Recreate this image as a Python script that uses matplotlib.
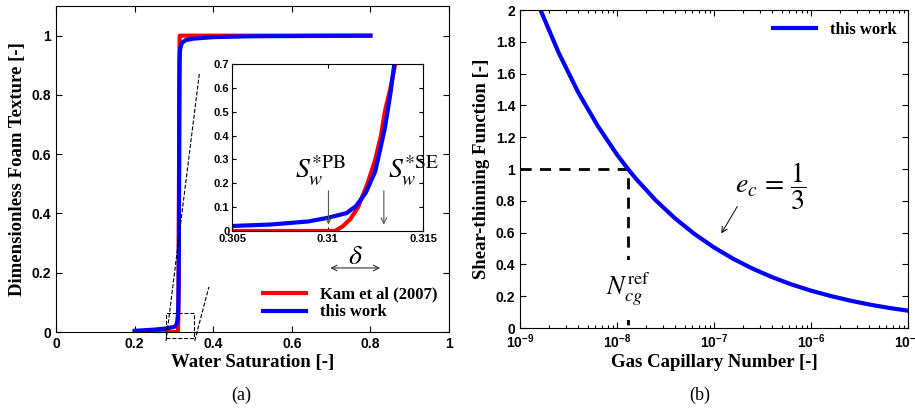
import math
import matplotlib
matplotlib.use("Agg")
import matplotlib.pyplot as plt
from matplotlib.ticker import FuncFormatter, LogLocator, NullFormatter

# fonts: Arial-like bold ticks, Times-like bold labels
plt.rcParams['font.family'] = ['Liberation Sans', 'DejaVu Sans']
plt.rcParams['mathtext.fontset'] = 'custom'
plt.rcParams['mathtext.rm'] = 'Liberation Sans:bold'
plt.rcParams['mathtext.bf'] = 'Liberation Sans:bold'
plt.rcParams['mathtext.it'] = 'Liberation Sans:bold:italic'
plt.rcParams['xtick.direction'] = 'in'
plt.rcParams['ytick.direction'] = 'in'

# --- (a) dimensionless foam texture vs water saturation ---
sw_kam = [0.2, 0.3104, 0.3108, 0.3112, 0.3116, 0.3121, 0.3125, 0.3128,
          0.3130, 0.3133, 0.31354, 0.3138, 0.3141, 0.3144, 0.3147, 0.8]
nd_kam = [0.0, 0.0, 0.02, 0.05, 0.1, 0.2, 0.3, 0.4,
          0.5, 0.6, 0.7, 0.8, 0.9, 0.97, 1.0, 1.0]

sw_this = [0.2, 0.25, 0.28, 0.3, 0.305, 0.307, 0.309, 0.310, 0.311, 0.3115,
           0.312, 0.3125, 0.313, 0.3133, 0.3135, 0.314, 0.3145, 0.315,
           0.316, 0.318, 0.32, 0.33, 0.35, 0.4, 0.5, 0.8]
nd_this = [0.004, 0.008, 0.012, 0.017, 0.021, 0.027, 0.040, 0.055, 0.075, 0.105,
           0.16, 0.25, 0.43, 0.58, 0.70, 0.85, 0.91, 0.94,
           0.955, 0.965, 0.975, 0.985, 0.99, 0.995, 0.998, 1.0]

# --- (b) shear-thinning function vs gas capillary number ---
n_cg = [1.585e-9, 2.512e-9, 3.981e-9, 6.310e-9, 1e-8, 1.3e-8, 1.585e-8,
        2.512e-8, 3.981e-8, 6.310e-8, 1e-7, 1.585e-7, 2.512e-7, 3.981e-7,
        6.310e-7, 1e-6, 1.585e-6, 2.512e-6, 3.981e-6, 6.310e-6, 1e-5]
f_st = [2.017, 1.730, 1.483, 1.273, 1.091, 1.0, 0.936,
        0.803, 0.689, 0.591, 0.507, 0.435, 0.373, 0.320,
        0.274, 0.235, 0.202, 0.173, 0.148, 0.127, 0.109]
n_ref = 1.3e-8

serif_bold = dict(family='Liberation Serif', weight='bold')
fmt_g = FuncFormatter(lambda v, p: '%g' % round(v, 4))

fig = plt.figure(figsize=(9.15, 4.15), dpi=100)

# left main axes
ax1 = fig.add_axes([0.0612, 0.2, 0.4295, 0.7855])
ax1.plot(sw_kam, nd_kam, color='#ff0000', lw=3, label='Kam et al (2007)')
ax1.plot(sw_this, nd_this, color='#0000ff', lw=3, label='this work')
ax1.set_xlim(0, 1)
ax1.set_ylim(0, 1.1)
ax1.set_xticks([0, 0.2, 0.4, 0.6, 0.8, 1])
ax1.set_yticks([0, 0.2, 0.4, 0.6, 0.8, 1])
ax1.xaxis.set_major_formatter(fmt_g)
ax1.yaxis.set_major_formatter(fmt_g)
ax1.tick_params(top=True, right=True, labelsize=10, length=4, width=0.8)
for lab in ax1.get_xticklabels() + ax1.get_yticklabels():
    lab.set_fontweight('bold')
ax1.set_xlabel('Water Saturation [-]', fontsize=13.5, labelpad=2, **serif_bold)
ax1.set_ylabel('Dimensionless Foam Texture [-]', fontsize=13.5, labelpad=4, **serif_bold)
ax1.legend(loc='lower right', frameon=False, handlelength=2.6,
           prop=dict(family='Liberation Serif', weight='bold', size=12),
           borderaxespad=0.3, labelspacing=0.1)

# zoom box and connector lines
ax1.plot([0.28, 0.351, 0.351, 0.28, 0.28], [-0.02, -0.02, 0.064, 0.064, -0.02],
         ls='--', color='k', lw=0.8, clip_on=False)
ax1.plot([0.28, 0.365], [-0.03, 0.875], ls='--', color='k', lw=0.8, clip_on=False)
ax1.plot([0.353, 0.389], [-0.03, 0.152], ls='--', color='k', lw=0.8, clip_on=False)

# inset
axi = fig.add_axes([0.2536, 0.4434, 0.2087, 0.4024])
axi.plot(sw_kam, nd_kam, color='#ff0000', lw=3)
axi.plot(sw_this, nd_this, color='#0000ff', lw=3)
axi.set_xlim(0.305, 0.315)
axi.set_ylim(0, 0.7)
axi.set_xticks([0.305, 0.31, 0.315])
axi.set_yticks([0, 0.1, 0.2, 0.3, 0.4, 0.5, 0.6, 0.7])
axi.xaxis.set_major_formatter(fmt_g)
axi.yaxis.set_major_formatter(fmt_g)
axi.tick_params(top=True, right=True, labelsize=8, length=3, width=0.8, pad=2)
for lab in axi.get_xticklabels() + axi.get_yticklabels():
    lab.set_fontweight('bold')

arrow_g = dict(arrowstyle='->', color='#555555', lw=0.8)
axi.annotate('', xy=(0.31005, 0.015), xytext=(0.31005, 0.18), arrowprops=arrow_g)
axi.text(0.30962, 0.182, r'$S_w^{*\mathrm{PB}}$', ha='center', va='bottom',
         fontsize=20, math_fontfamily='stix', clip_on=False)
axi.annotate('', xy=(0.31295, 0.015), xytext=(0.31295, 0.18), arrowprops=arrow_g)
axi.text(0.31316, 0.182, r'$S_w^{*\mathrm{SE}}$', ha='left', va='bottom',
         fontsize=20, math_fontfamily='stix', clip_on=False)
axi.annotate('', xy=(0.3100, -0.155), xytext=(0.3129, -0.155),
             arrowprops=dict(arrowstyle='<->', color='#333333', lw=0.8),
             annotation_clip=False)
axi.text(0.31147, -0.11, r'$\delta$', ha='center', va='center', fontsize=20,
         math_fontfamily='stix', clip_on=False)

# right axes
ax2 = fig.add_axes([0.5683, 0.2096, 0.424, 0.766])
ax2.plot(n_cg, f_st, color='#0000ff', lw=3, label='this work')
ax2.plot([1e-9, n_ref, n_ref], [1.0, 1.0, 0.0], ls='--', color='k', lw=2,
         dashes=(4, 3), zorder=1)
ax2.set_xscale('log')
ax2.set_xlim(1e-9, 1e-5)
ax2.set_ylim(0, 2)
ax2.set_xticks([1e-9, 1e-8, 1e-7, 1e-6, 1e-5])
ax2.xaxis.set_major_formatter(FuncFormatter(lambda v, p: r'$10^{%d}$' % round(math.log10(v))))
ax2.xaxis.set_minor_locator(LogLocator(base=10, subs=range(2, 10), numticks=20))
ax2.xaxis.set_minor_formatter(NullFormatter())
ax2.set_yticks([0, 0.2, 0.4, 0.6, 0.8, 1, 1.2, 1.4, 1.6, 1.8, 2])
ax2.yaxis.set_major_formatter(fmt_g)
ax2.tick_params(which='both', top=True, right=True, labelsize=10, width=0.8)
ax2.tick_params(which='major', length=4)
ax2.tick_params(which='minor', length=2)
for lab in ax2.get_yticklabels():
    lab.set_fontweight('bold')
ax2.set_xlabel('Gas Capillary Number [-]', fontsize=13.5, labelpad=2, **serif_bold)
ax2.set_ylabel('Shear-thinning Function [-]', fontsize=13.5, labelpad=4, **serif_bold)
ax2.legend(loc='upper right', frameon=False, handlelength=2.6,
           prop=dict(family='Liberation Serif', weight='bold', size=12),
           borderaxespad=0.3)

ax2.text(n_ref, 0.24, r'$N_{cg}^{\mathrm{ref}}$', ha='center', va='center',
         fontsize=19, math_fontfamily='stix',
         bbox=dict(facecolor='white', edgecolor='none', pad=8))
ax2.annotate('', xy=(1.15e-7, 0.58), xytext=(1.8e-7, 0.78),
             arrowprops=dict(arrowstyle='->', color='k', lw=0.7))
ax2.text(1.65e-7, 0.89, r'$e_c\,=\,\dfrac{1}{3}$', ha='left', va='center',
         fontsize=20, math_fontfamily='stix')

fig.text(0.264, 0.048, '(a)', ha='center', va='center', fontsize=13,
         family='Liberation Serif')
fig.text(0.765, 0.048, '(b)', ha='center', va='center', fontsize=13,
         family='Liberation Serif')

fig.savefig('out.png', dpi=100)
